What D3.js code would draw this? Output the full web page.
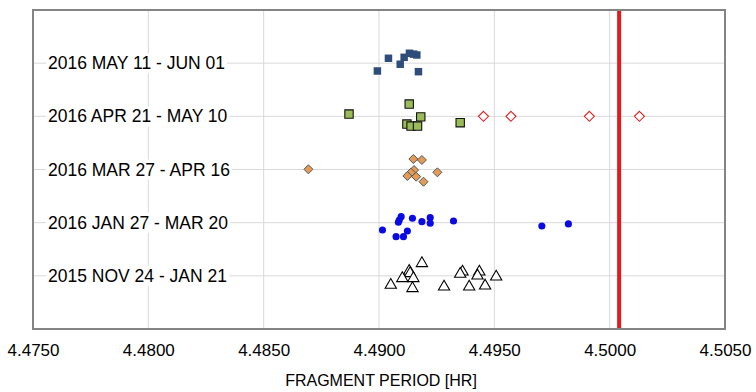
<!DOCTYPE html>
<html>
<head>
<meta charset="utf-8">
<script src="https://cdn.jsdelivr.net/npm/d3@7"></script>
<style>
  body { margin: 0; background: #fff; }
  text { font-family: "Liberation Sans", Arial, sans-serif; }
</style>
</head>
<body>
<div id="chart"></div>
<script>
// row labels, bottom (1) to top (5)
const rowLabels = ["2015 NOV 24 - JAN 21", "2016 JAN 27 - MAR 20", "2016 MAR 27 - APR 16", "2016 APR 21 - MAY 10", "2016 MAY 11 - JUN 01"];
const xTicks = [4.475, 4.48, 4.485, 4.49, 4.495, 4.5, 4.505];

// each point: [fragment period, row position]
const mayJun = [[4.49041, 5.092], [4.48993, 4.853], [4.49092, 4.98], [4.49109, 5.11], [4.49132, 5.186], [4.49150, 5.17], [4.49164, 5.154], [4.49171, 4.84]];
const aprMay = [[4.48870, 4.043], [4.49131, 4.231], [4.49181, 3.99], [4.49121, 3.855], [4.49139, 3.818], [4.49167, 3.818], [4.49352, 3.88]];
const aprMayOut = [[4.49453, 4], [4.49572, 4], [4.49912, 4], [4.50129, 4]];
const marApr = [[4.48694, 3.004], [4.49149, 3.197], [4.49186, 3.179], [4.49152, 2.99], [4.49138, 2.94], [4.49123, 2.878], [4.49161, 2.865], [4.49193, 2.77], [4.49253, 2.947]];
const janMar = [[4.49096, 2.113], [4.49088, 2.051], [4.49084, 2.008], [4.49145, 2.083], [4.49186, 2.019], [4.49222, 2.094], [4.49222, 1.989], [4.49323, 2.032], [4.49015, 1.863], [4.49074, 1.737], [4.49106, 1.737], [4.49123, 1.844], [4.49706, 1.938], [4.49821, 1.976]];
const novJan = [[4.49186, 1.235], [4.49131, 1.09], [4.49135, 1.047], [4.49101, 0.953], [4.49149, 0.953], [4.49051, 0.827], [4.49145, 0.765], [4.49282, 0.795], [4.49362, 1.077], [4.49352, 1.034], [4.49435, 1.077], [4.49427, 1.002], [4.49391, 0.795], [4.49460, 0.814], [4.49508, 0.983]];
const refPeriod = 4.50041;

const W = 756, H = 392;
const margin = { top: 10, right: 31, bottom: 63, left: 33 };

const svg = d3.select("#chart").append("svg")
    .attr("width", W)
    .attr("height", H);

const x = d3.scaleLinear().domain([4.475, 4.505]).range([margin.left, W - margin.right]);
const y = d3.scaleLinear().domain([0, 6]).range([H - margin.bottom, margin.top]);

// gridlines
svg.append("g")
    .selectAll("line")
    .data(xTicks)
    .enter().append("line")
    .attr("x1", d => x(d)).attr("x2", d => x(d))
    .attr("y1", y(6)).attr("y2", y(0))
    .style("stroke", "#d9d9d9");
svg.append("g")
    .selectAll("line")
    .data(d3.range(1, 6))
    .enter().append("line")
    .attr("x1", x(4.475)).attr("x2", x(4.505))
    .attr("y1", d => y(d)).attr("y2", d => y(d))
    .style("stroke", "#d9d9d9");

// x axis labels
const xAxis = d3.axisBottom(x).tickValues(xTicks).tickFormat(d3.format(".4f")).tickSize(0).tickPadding(15);
const ax = svg.append("g")
    .attr("transform", "translate(0," + y(0) + ")")
    .call(xAxis);
ax.select(".domain").remove();
ax.selectAll("text")
    .style("font-family", "'Liberation Sans', Arial, sans-serif")
    .style("font-size", "17px")
    .style("fill", "#000");

svg.append("text")
    .attr("x", (x(4.475) + x(4.505)) / 2 + 2)
    .attr("y", 386)
    .style("text-anchor", "middle")
    .style("font-size", "16px")
    .text("FRAGMENT PERIOD [HR]");

// row labels with white box behind them
rowLabels.forEach((lbl, i) => {
    const t = svg.append("text")
        .attr("x", 48)
        .attr("y", y(i + 1))
        .attr("dy", "0.35em")
        .style("font-size", "17.5px")
        .text(lbl);
    const b = t.node().getBBox();
    svg.insert("rect", () => t.node())
        .attr("x", b.x - 2).attr("y", b.y)
        .attr("width", b.width + 4).attr("height", b.height)
        .style("fill", "#fff");
});

// reference line
svg.append("line")
    .attr("x1", x(refPeriod)).attr("x2", x(refPeriod))
    .attr("y1", y(6)).attr("y2", y(0))
    .style("stroke", "#e31a1c")
    .style("stroke-width", 4);

// markers
function plot(data, shape, size, fill, stroke, sw) {
    svg.append("g")
        .selectAll("path")
        .data(data)
        .enter().append("path")
        .attr("transform", d => "translate(" + x(d[0]) + "," + y(d[1]) + ")")
        .attr("d", d3.symbol().type(shape).size(size))
        .style("fill", fill)
        .style("stroke", stroke)
        .style("stroke-width", sw);
}
function plotDiamond(data, r, fill, stroke, sw) {
    svg.append("g")
        .selectAll("path")
        .data(data)
        .enter().append("path")
        .attr("transform", d => "translate(" + x(d[0]) + "," + y(d[1]) + ")")
        .attr("d", "M0," + (-r) + "L" + r + ",0L0," + r + "L" + (-r) + ",0Z")
        .style("fill", fill)
        .style("stroke", stroke)
        .style("stroke-width", sw);
}

plot(novJan, d3.symbolTriangle, 55, "#fff", "#000", 1.1);
plot(janMar, d3.symbolCircle, 40, "#0a0ae6", "none", 0);
plotDiamond(marApr, 4.5, "#e59a56", "#4d5a5a", 1);
plot(aprMay, d3.symbolSquare, 70, "#9bbb59", "#111", 1.1);
plotDiamond(aprMayOut, 5, "#fff", "#e02020", 1.1);
plot(mayJun, d3.symbolSquare, 56, "#2f4d7a", "none", 0);

// plot border
svg.append("rect")
    .attr("x", x(4.475)).attr("y", y(6))
    .attr("width", x(4.505) - x(4.475))
    .attr("height", y(0) - y(6))
    .style("fill", "none")
    .style("stroke", "#848484")
    .style("stroke-width", 2);
</script>
</body>
</html>
